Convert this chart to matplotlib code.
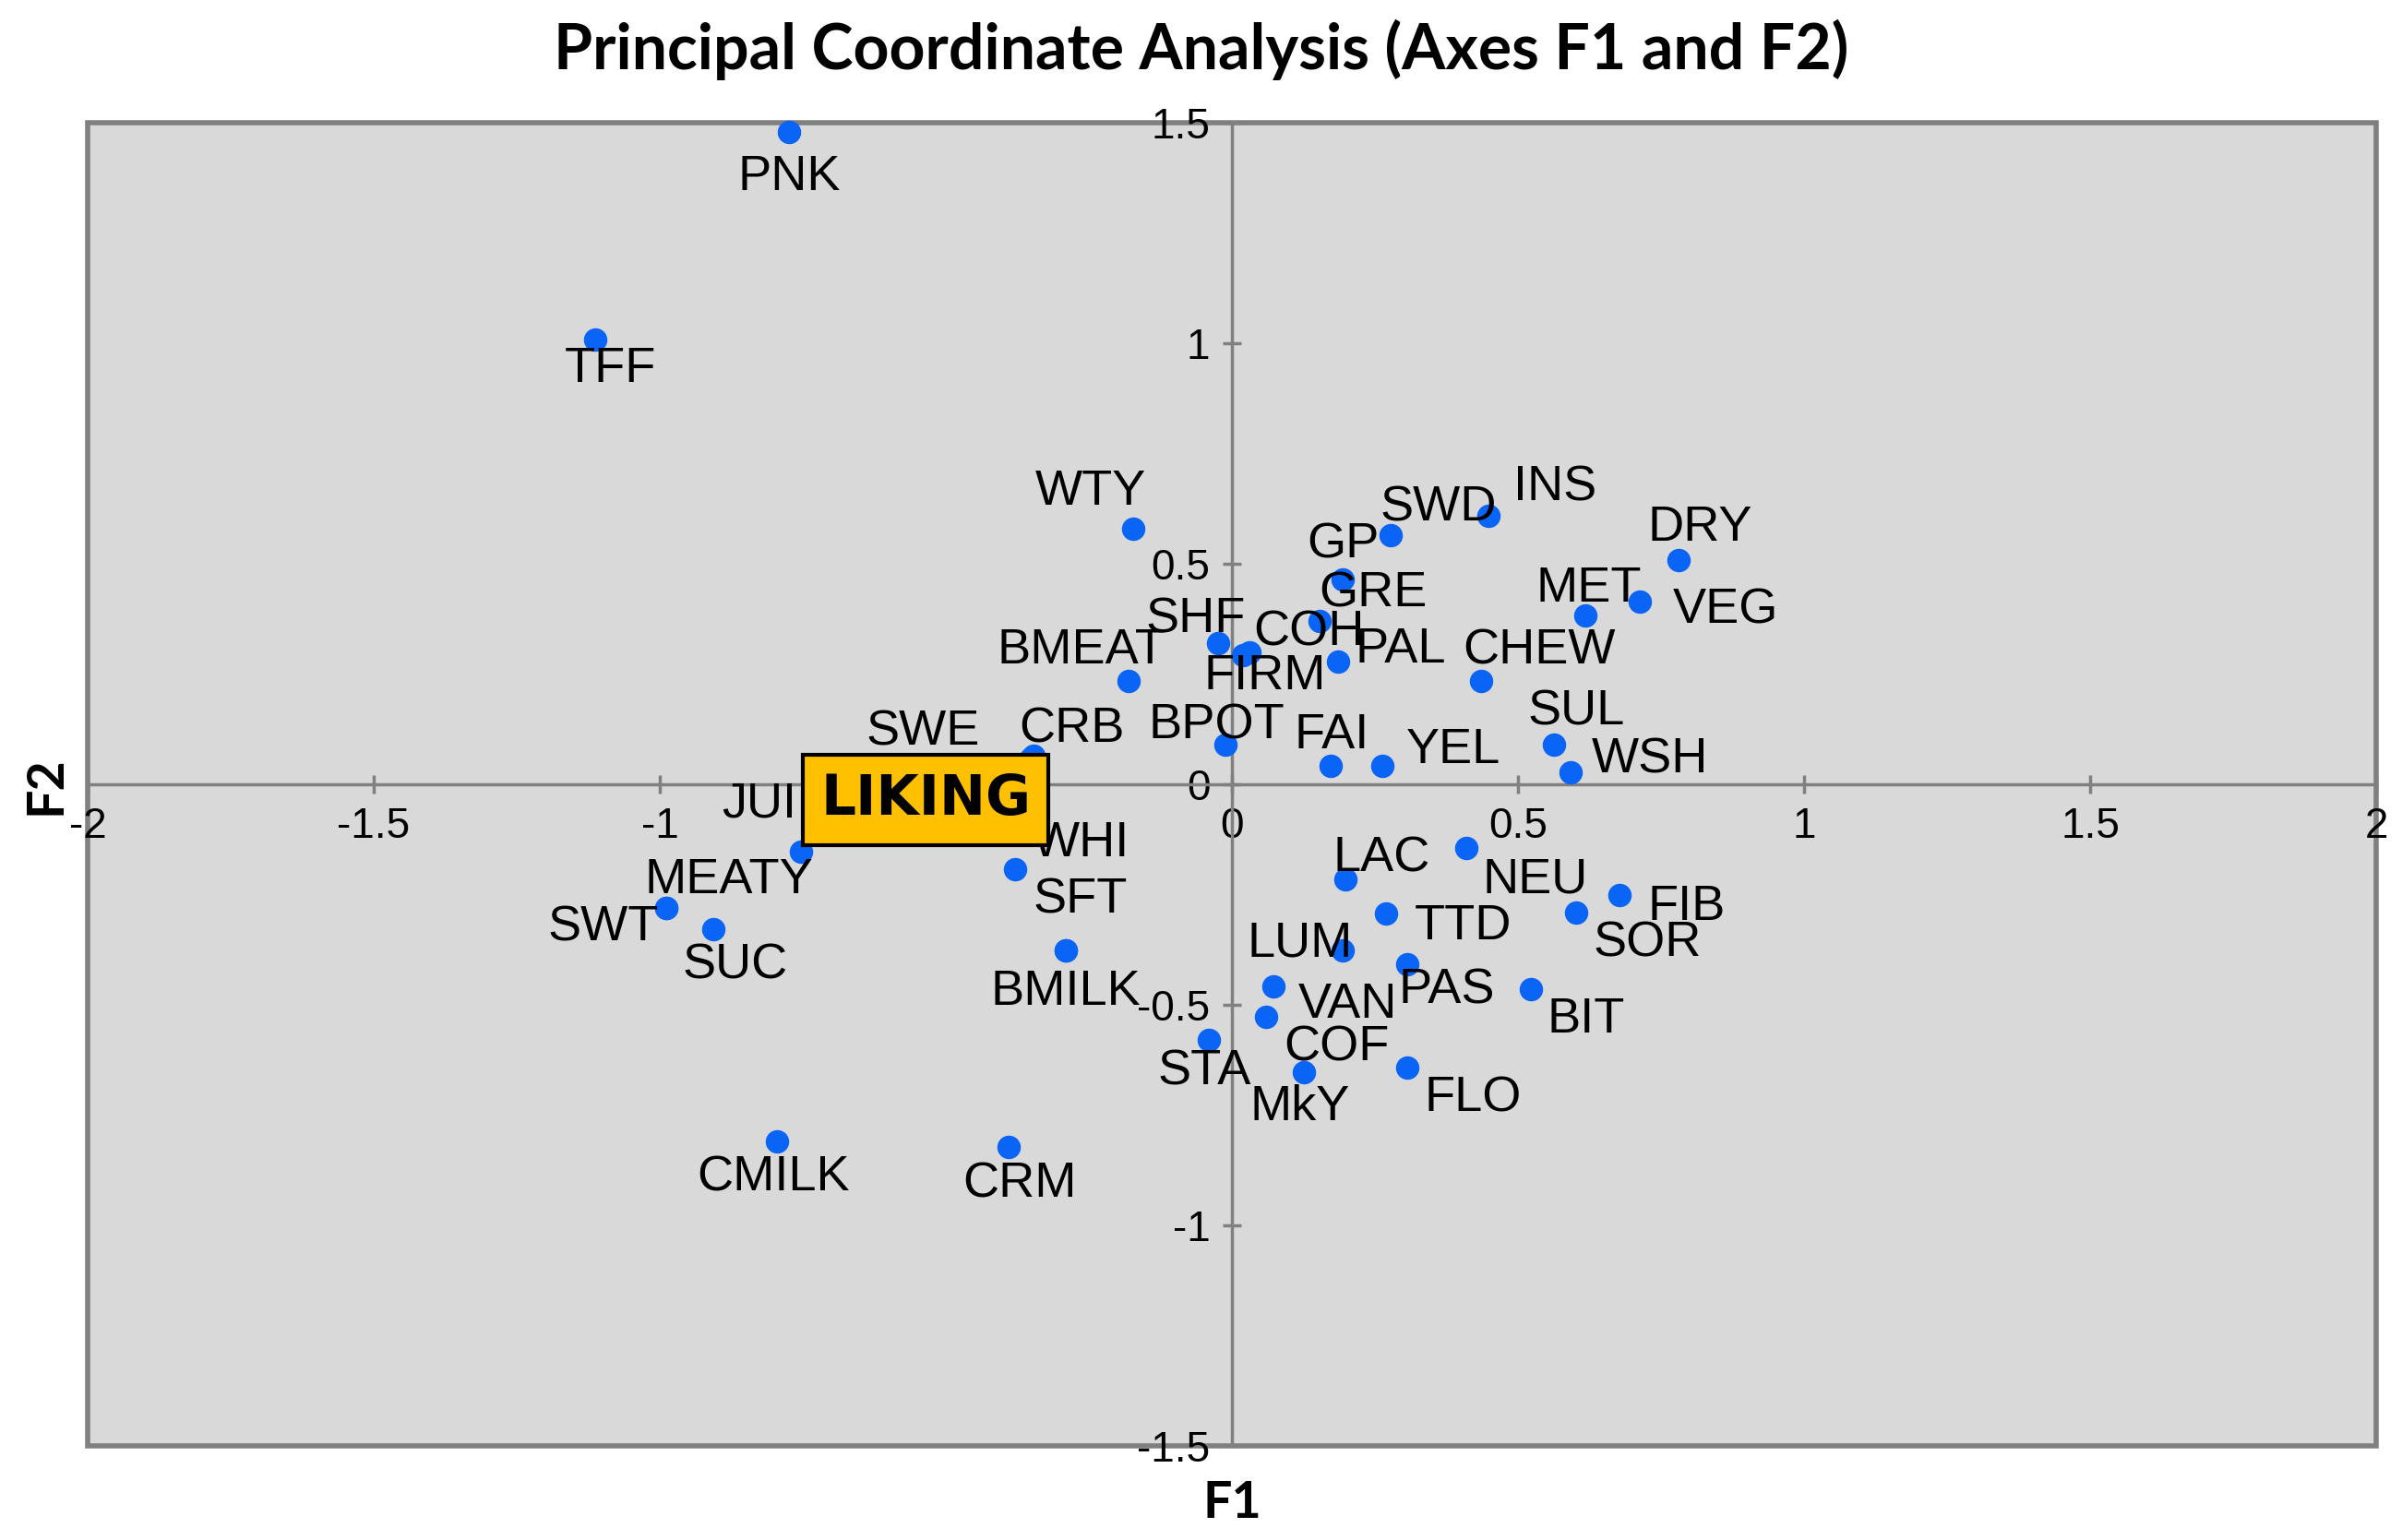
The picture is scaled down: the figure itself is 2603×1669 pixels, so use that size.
import matplotlib.pyplot as plt

plt.rcParams['font.family'] = ['Liberation Sans', 'DejaVu Sans']

labels = ["PNK", "TFF", "WTY", "SWD", "INS", "DRY", "GP", "MET", "VEG", "GRE",
          "SHF", "COH", "FIRM", "PAL", "BMEAT", "CHEW", "BPOT", "SWE", "CRB", "FAI",
          "YEL", "SUL", "WSH", "JUI", "WHI", "LAC", "NEU", "FIB", "SOR", "MEATY",
          "SWT", "SUC", "SFT", "TTD", "LUM", "PAS", "BIT", "BMILK", "VAN", "COF",
          "STA", "MkY", "FLO", "CMILK", "CRM"]
f1 = [-0.774, -1.113, -0.172, 0.277, 0.449, 0.780, 0.194, 0.618, 0.712, 0.153,
      -0.024, 0.019, 0.030, 0.185, -0.180, 0.435, -0.011, -0.352, -0.347, 0.172,
      0.263, 0.562, 0.591, -0.753, -0.379, 0.199, 0.409, 0.677, 0.602, -0.989,
      -0.989, -0.906, -0.290, 0.269, 0.194, 0.306, 0.522, -0.290, 0.073, 0.059,
      -0.040, 0.126, 0.306, -0.796, -0.390]
f2 = [1.479, 1.008, 0.579, 0.565, 0.610, 0.509, 0.464, 0.384, 0.415, 0.370,
      0.321, 0.293, 0.300, 0.279, 0.234, 0.234, 0.091, 0.060, 0.066, 0.042,
      0.042, 0.091, 0.028, -0.153, -0.192, -0.216, -0.143, -0.251, -0.290, -0.279,
      -0.279, -0.328, -0.377, -0.293, -0.377, -0.408, -0.464, -0.377, -0.457, -0.527,
      -0.579, -0.652, -0.642, -0.809, -0.823]
liking = (-0.535, -0.035)
ticks_x = [-2, -1.5, -1, -0.5, 0, 0.5, 1, 1.5, 2]
ticks_y = [-1.5, -1, -0.5, 0, 0.5, 1, 1.5]

# label offsets (screen px in reference display scale)
offs = {"PNK": (0, 29), "TFF": (10, 19), "WTY": (-28, -24), "SWD": (31, -18),
        "INS": (43, -18), "DRY": (14, -21), "GP": (0, -23), "MET": (2, -17),
        "VEG": (56, 6), "GRE": (35, -18), "SHF": (-15, -15), "COH": (43, -15),
        "FIRM": (10, 16), "PAL": (41, -8), "BMEAT": (-31, -20), "CHEW": (38, -20),
        "BPOT": (-6, -12), "SWE": (-70, -17), "CRB": (25, -17), "FAI": (1, -20),
        "YEL": (46, -10), "SUL": (15, -21), "WSH": (52, -8), "JUI": (-27, -31),
        "WHI": (43, -17), "LAC": (23, -14), "NEU": (45, 21), "FIB": (44, 8),
        "SOR": (46, 20), "MEATY": (41, -18), "SWT": (-41, 13), "SUC": (14, 24),
        "SFT": (9, -33), "TTD": (50, 8), "LUM": (-28, -5), "PAS": (26, 17),
        "BIT": (36, 20), "BMILK": (0, 27), "VAN": (48, 12), "COF": (46, 20),
        "STA": (-3, 21), "MkY": (-3, 23), "FLO": (43, 20), "CMILK": (-2, 24),
        "CRM": (7, 24)}
k = 1.2  # display px -> points

fig = plt.figure(figsize=(26.03, 16.69), dpi=100)
ax = fig.add_axes([0.0365, 0.0611, 0.9528, 0.859])
ax.set_xlim(-2, 2)
ax.set_ylim(-1.5, 1.5)
ax.set_facecolor('#D9D9D9')
ax.patch.set_edgecolor('#808080')
ax.patch.set_linewidth(4)
for s in ['top', 'right']:
    ax.spines[s].set_visible(False)
for s in ['left', 'bottom']:
    ax.spines[s].set_position(('data', 0))
    ax.spines[s].set_color('#808080')
    ax.spines[s].set_linewidth(2.5)
ax.set_xticks(ticks_x)
ax.set_yticks(ticks_y)
ax.set_xticklabels([f"{t:g}" for t in ticks_x])
ax.set_yticklabels([f"{t:g}" for t in ticks_y])
ax.tick_params(direction='inout', length=14, width=2.5, color='#808080',
               labelsize=33, pad=10)

ax.scatter(f1, f2, s=300, color='#0A64F5', zorder=3, clip_on=False)
for lab, x, y in zip(labels, f1, f2):
    dx, dy = offs[lab]
    ax.annotate(lab, (x, y), xytext=(dx * k, -dy * k), textcoords='offset points',
                ha='center', va='center', fontsize=39, zorder=4)

ax.text(liking[0], liking[1], "LIKING", ha='center', va='center', fontsize=43,
        fontweight='bold', zorder=5, family='Liberation Sans Narrow',
        bbox=dict(boxstyle='square,pad=0.32', facecolor='#FFC000',
                  edgecolor='black', linewidth=3))

fig.text(0.5, 0.968, "Principal Coordinate Analysis (Axes F1 and F2)",
         ha='center', va='center', fontsize=49, fontweight='bold', family='Lato')
fig.text(0.513, 0.024, "F1", ha='center', va='center', fontsize=40,
         fontweight='bold', family='Lato')
fig.text(0.019, 0.49, "F2", ha='center', va='center', fontsize=40,
         fontweight='bold', family='Lato', rotation=90)

fig.savefig('out.png', dpi=100)
